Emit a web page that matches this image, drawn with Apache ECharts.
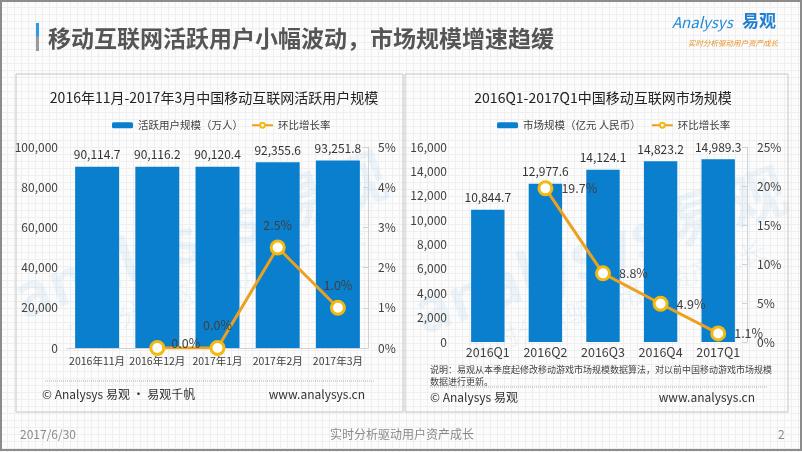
<!DOCTYPE html>
<html><head><meta charset="utf-8">
<script src="https://cdn.jsdelivr.net/npm/echarts@6/dist/echarts.min.js"></script>
<style>
html,body{margin:0;padding:0;}
#wrap{width:802px;height:452px;background-color:#fcfcfc;
background-image:linear-gradient(#efefef 1px,transparent 1px),linear-gradient(90deg,#efefef 1px,transparent 1px);
background-size:7px 7px;}
#c{width:802px;height:452px;}
</style></head>
<body><div id="wrap"><div id="c"></div></div>
<script>
const monthCats = ['2016年11月','2016年12月','2017年1月','2017年2月','2017年3月'];
const activeUsers = [90114.7, 90116.2, 90120.4, 92355.6, 93251.8];
const userGrowth = ['-', 0.0, 0.0, 2.5, 1.0];
const quarterCats = ['2016Q1','2016Q2','2016Q3','2016Q4','2017Q1'];
const marketSize = [10844.7, 12977.6, 14124.1, 14823.2, 14989.3];
const marketGrowth = ['-', 19.7, 8.8, 4.9, 1.1];
const leftTicks = {min:0, max:100000, interval:20000};
const leftRateTicks = {min:0, max:5, interval:1};
const rightTicks = {min:0, max:16000, interval:2000};
const rightRateTicks = {min:0, max:25, interval:5};

const FONT = '"Noto Sans CJK SC","Noto Sans",sans-serif';
const NARROW = '"Liberation Sans Narrow","Noto Sans CJK SC",sans-serif';
const BAR = '#0A7FCE';
const LINE = '#EDA01E';
const fmtNum = v => Number(v).toLocaleString('en-US');
const fmtBar = p => Number(p.value).toLocaleString('en-US',{minimumFractionDigits:1,maximumFractionDigits:1});
const fmtPct = p => Number(p.value).toFixed(1) + '%';

const chart = echarts.init(document.getElementById('c'), null, {renderer:'canvas'});
const axisLbl = {color:'#404040', fontSize:12, fontFamily:FONT};
const lineSeries = (name, data, xi, yi, labelPos) => ({
  name, type:'line', xAxisIndex:xi, yAxisIndex:yi, data,
  symbol:'circle', symbolSize:13, z:5,
  lineStyle:{color:LINE, width:3},
  itemStyle:{color:'#ffffff', borderColor:'#F4B90F', borderWidth:3},
  label:{show:true, position:labelPos, distance:8, formatter:fmtPct, color:'#404040', fontSize:12.5, fontFamily:NARROW}
});
const barLabel = {show:true, position:'top', distance:6, formatter:fmtBar, color:'#333', fontSize:12, fontFamily:NARROW};
const wm = (cx, cy) => ({
  type:'group', x:cx, y:cy, rotation:0.33, silent:true, z:-1,
  children:[
    {type:'text', style:{text:'analysys 易观', x:0, y:0, align:'center', verticalAlign:'middle', fill:'rgba(40,140,210,0.07)', font:'bold 60px '+FONT}},
    {type:'text', style:{text:'实时分析驱动用户资产成长', x:0, y:52, align:'center', verticalAlign:'middle', fill:'rgba(40,140,210,0.06)', font:'26px '+FONT}}
  ]
});

const option = {
  animation:false,
  textStyle:{fontFamily:FONT},
  title:[
    {text:'2016年11月-2017年3月中国移动互联网活跃用户规模', left:209, top:86, textAlign:'center',
     textStyle:{fontSize:14, fontWeight:'normal', color:'#222', fontFamily:FONT}},
    {text:'2016Q1-2017Q1中国移动互联网市场规模', left:598, top:86, textAlign:'center',
     textStyle:{fontSize:14, fontWeight:'normal', color:'#222', fontFamily:FONT}}
  ],
  legend:[
    {data:['活跃用户规模（万人）','环比增长率'], left:107, top:115, itemWidth:21, itemHeight:6, itemGap:8,
     textStyle:{color:'#404040', fontSize:10.5, fontFamily:FONT}},
    {data:['市场规模（亿元 人民币）',{name:'环比增长率 '}], left:492, top:115, itemWidth:21, itemHeight:6, itemGap:10,
     textStyle:{color:'#404040', fontSize:10.5, fontFamily:FONT}}
  ],
  grid:[
    {left:67, width:301, top:147, height:201},
    {left:459, width:288, top:147, height:195}
  ],
  xAxis:[
    {type:'category', gridIndex:0, data:monthCats, axisTick:{show:false},
     axisLine:{lineStyle:{color:'#d0d0d0'}}, axisLabel:Object.assign({}, axisLbl, {margin:8, interval:0, fontSize:10.5, fontFamily:NARROW})},
    {type:'category', gridIndex:1, data:quarterCats, axisTick:{show:false},
     axisLine:{show:false}, axisLabel:Object.assign({}, axisLbl, {margin:4, interval:0, fontSize:12.5, fontFamily:NARROW})}
  ],
  yAxis:[
    Object.assign({type:'value', gridIndex:0, splitLine:{show:false}, axisLine:{show:false}, axisTick:{show:false},
     axisLabel:Object.assign({formatter:fmtNum, margin:9}, axisLbl)}, leftTicks),
    Object.assign({type:'value', gridIndex:0, position:'right', splitLine:{show:false},
     axisLine:{show:true, lineStyle:{color:'#c9d3dc'}}, axisTick:{show:true, inside:true, length:5, lineStyle:{color:'#c9d3dc'}},
     axisLabel:Object.assign({formatter:'{value}%', margin:10}, axisLbl)}, leftRateTicks),
    Object.assign({type:'value', gridIndex:1, splitLine:{show:false}, axisLine:{show:false}, axisTick:{show:false},
     axisLabel:Object.assign({formatter:fmtNum, margin:12}, axisLbl)}, rightTicks),
    Object.assign({type:'value', gridIndex:1, position:'right', splitLine:{show:false},
     axisLine:{show:true, lineStyle:{color:'#c9d3dc'}}, axisTick:{show:true, inside:true, length:5, lineStyle:{color:'#c9d3dc'}},
     axisLabel:Object.assign({formatter:'{value}%', margin:10}, axisLbl)}, rightRateTicks)
  ],
  series:[
    {name:'活跃用户规模（万人）', type:'bar', xAxisIndex:0, yAxisIndex:0, data:activeUsers, barWidth:'73%',
     itemStyle:{color:BAR}, label:barLabel},
    lineSeries('环比增长率', userGrowth.map((v,i)=> i===1 ? {value:v, label:{position:'right', offset:[-2,-5]}} : v), 0, 1, 'top'),
    {name:'市场规模（亿元 人民币）', type:'bar', xAxisIndex:1, yAxisIndex:2, data:marketSize, barWidth:'58%',
     itemStyle:{color:BAR}, label:barLabel},
    lineSeries('环比增长率 ', marketGrowth, 1, 3, 'right')
  ],
  graphic:[
    wm(200, 235), wm(600, 250),
    {type:'rect', shape:{x:1, y:1, width:800, height:449}, style:{fill:'none', stroke:'#8c8c8c', lineWidth:2}, silent:true},
    {type:'rect', shape:{x:36, y:23, width:3, height:28},
     style:{fill:new echarts.graphic.LinearGradient(0,0,0,1,[{offset:0,color:'#2E9BE6'},{offset:0.45,color:'#2E9BE6'},{offset:0.5,color:'#9a9a9a'},{offset:1,color:'#9a9a9a'}])}},
    {type:'text', left:48, top:27, style:{text:'移动互联网活跃用户小幅波动，市场规模增速趋缓', fill:'#555', font:'bold 23px '+FONT}},
    {type:'text', left:672, top:15, style:{text:'Analysys', fill:'#1F8BD8', font:'italic 15px '+FONT}},
    {type:'text', left:742, top:12, style:{text:'易观', fill:'#1F7FD0', font:'bold 17px '+FONT}},
    {type:'text', left:688, top:39, style:{text:'实时分析驱动用户资产成长', fill:'#E8962A', font:'italic 7.5px '+FONT}},
    {type:'rect', shape:{x:16, y:74, width:387, height:338}, style:{fill:'none', stroke:'#c6c6c6', lineWidth:1}},
    {type:'rect', shape:{x:405, y:74, width:383, height:338}, style:{fill:'none', stroke:'#c6c6c6', lineWidth:1}},
    {type:'line', shape:{x1:45, y1:381, x2:375, y2:381}, style:{stroke:'#b0b0b0', lineWidth:1, lineDash:[1,1]}},
    {type:'line', shape:{x1:430, y1:387, x2:767, y2:387}, style:{stroke:'#b0b0b0', lineWidth:1, lineDash:[1,1]}},
    {type:'text', left:42, top:388, style:{text:'© Analysys 易观 · 易观千帆', fill:'#333', font:'12px '+FONT}},
    {type:'text', right:802-365, top:388, style:{text:'www.analysys.cn', fill:'#333', font:'12px '+FONT}},
    {type:'text', left:430, top:364, style:{text:'说明：易观从本季度起修改移动游戏市场规模数据算法，对以前中国移动游戏市场规模\n数据进行更新。', fill:'#444', font:'9px '+FONT, lineHeight:12}},
    {type:'text', left:430, top:391, style:{text:'© Analysys 易观', fill:'#333', font:'12px '+FONT}},
    {type:'text', right:802-755, top:391, style:{text:'www.analysys.cn', fill:'#333', font:'12px '+FONT}},
    {type:'text', left:20, top:428, style:{text:'2017/6/30', fill:'#8a8a8a', font:'12px '+FONT}},
    {type:'text', left:330, top:428, style:{text:'实时分析驱动用户资产成长', fill:'#8a8a8a', font:'12px '+FONT}},
    {type:'text', left:778, top:428, style:{text:'2', fill:'#8a8a8a', font:'12px '+FONT}}
  ]
};
chart.setOption(option);
</script></body></html>
